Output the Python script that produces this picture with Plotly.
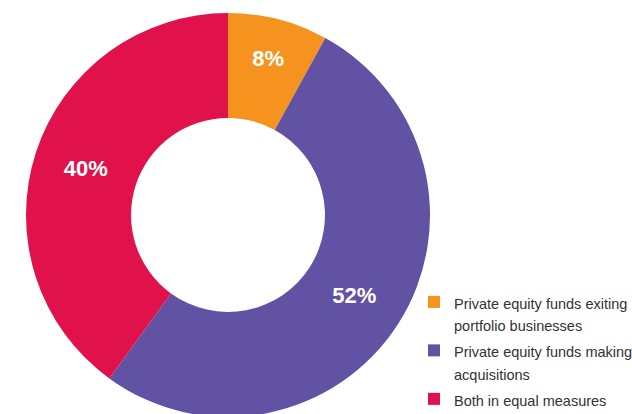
import plotly.graph_objects as go

# Share of respondents by expected source of deal activity
labels = [
    "Private equity funds exiting<br>portfolio businesses",
    "Private equity funds making<br>acquisitions",
    "Both in equal measures",
]
values = [8, 52, 40]
colors = ["#F6921E", "#6252A3", "#E1124B"]

W, H = 632, 430
cx, cy, r = 228, 215, 202  # ring centre and outer radius in pixels

# Legend glyphs a touch smaller than the legend font, so lines keep a loose leading
LEGEND_GLYPH_PX = 14.5


def small_lines(text):
    return "<br>".join(
        f'<span style="font-size:{LEGEND_GLYPH_PX}px">{part}</span>' for part in text.split("<br>")
    )


fig = go.Figure(
    go.Pie(
        labels=[small_lines(t) for t in labels],
        values=values,
        hole=0.48,
        sort=False,
        direction="clockwise",
        rotation=0,
        marker=dict(colors=colors, line=dict(width=0)),
        texttemplate="<b>%{value}%</b>",
        textposition="inside",
        insidetextorientation="horizontal",
        textfont=dict(family="Liberation Sans, Arial, sans-serif", size=22, color="white"),
        hoverinfo="label+percent",
        domain=dict(
            x=[(cx - r) / W, (cx + r) / W],
            y=[(H - cy - r) / H, (H - cy + r) / H],
        ),
    )
)

fig.update_layout(
    width=W,
    height=H,
    margin=dict(l=0, r=0, t=0, b=0, autoexpand=False),
    paper_bgcolor="white",
    plot_bgcolor="white",
    showlegend=True,
    legend=dict(
        x=414 / W,
        xanchor="left",
        y=(H - 284) / H,
        yanchor="top",
        valign="top",
        font=dict(family="Liberation Sans, Arial, sans-serif", size=17.5, color="#333333"),
        bgcolor="rgba(0,0,0,0)",
        borderwidth=0,
        tracegroupgap=0,
    ),
)

fig.write_html(
    "out.html",
    post_script="document.documentElement.style.overflow='hidden';document.body.style.overflow='hidden';",
)
